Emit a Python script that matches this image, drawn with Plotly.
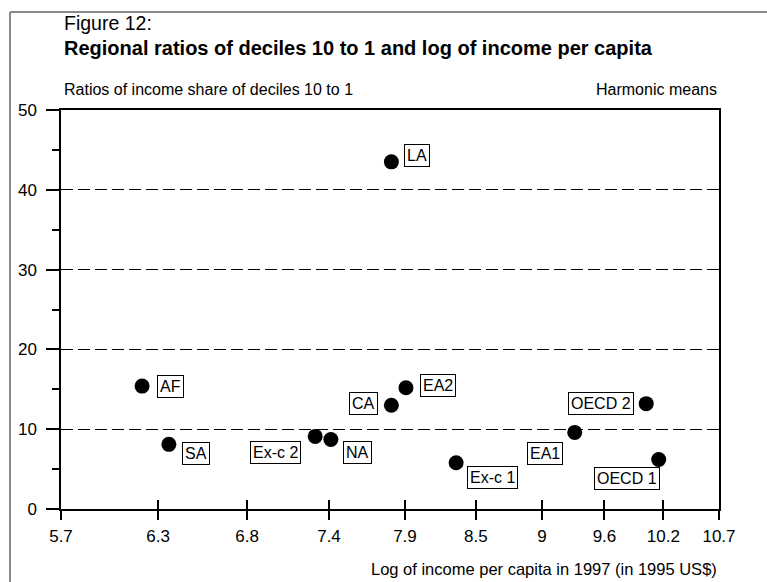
import numpy as np
import plotly.graph_objects as go

# ---- data ----
regions = ["AF", "SA", "Ex-c 2", "NA", "CA", "EA2", "LA", "Ex-c 1", "EA1", "OECD 2", "OECD 1"]
log_income = [6.16, 6.32, 7.27, 7.38, 7.82, 7.93, 7.82, 8.32, 9.32, 9.98, 10.10]
decile_ratio = [15.4, 8.1, 9.1, 8.7, 13.0, 15.2, 43.5, 5.8, 9.6, 13.2, 6.2]
x_tick_labels = ["5.7", "6.3", "6.8", "7.4", "7.9", "8.5", "9", "9.6", "10.2", "10.7"]
x_min, x_max = 5.7, 10.7
y_min, y_max = 0, 50

# ---- label placement (pixel offsets of label box centre from the point) ----
label_offsets = {
    "AF": (28, 0), "SA": (27, -9), "Ex-c 2": (-40, -16), "NA": (27, -13),
    "CA": (-28, 2), "EA2": (32, 2), "LA": (26, 6), "Ex-c 1": (36, -15),
    "EA1": (-30, -21), "OECD 2": (-45, 0), "OECD 1": (-32, -19),
}

FONT = "Liberation Sans, Arial, sans-serif"
W, H = 767, 582
PLOT_L, PLOT_R, PLOT_T, PLOT_B = 61, 719, 110, 509   # screen pixels
L, R = PLOT_L, W - PLOT_R
T, B = PLOT_T, H - PLOT_B
pw, ph = W - L - R, H - T - B

tickvals = list(np.linspace(x_min, x_max, len(x_tick_labels)))
xrange_log = [np.log10(x_min), np.log10(x_max)]

fig = go.Figure()
fig.add_trace(go.Scatter(
    x=log_income, y=decile_ratio, mode="markers",
    marker=dict(color="black", size=15, line=dict(width=0)),
    hoverinfo="x+y", showlegend=False,
))
# invisible trace on overlay axis (to draw inside tick halves)
fig.add_trace(go.Scatter(
    x=log_income, y=decile_ratio, mode="markers", xaxis="x2",
    marker=dict(opacity=0), hoverinfo="skip", showlegend=False,
))

for name, xv, yv in zip(regions, log_income, decile_ratio):
    dx, dy = label_offsets[name]
    fig.add_annotation(
        x=np.log10(xv), y=yv, xref="x", yref="y", text=name, showarrow=False,
        xshift=dx, yshift=dy, font=dict(family=FONT, size=16, color="black"),
        bordercolor="black", borderwidth=1, borderpad=2, bgcolor="white",
    )

def px_x(p):
    return (p - PLOT_L) / pw

def px_y(p):
    return (PLOT_B - p) / ph

texts = [
    ("Figure 12:", 62, 23, "left", 19.5),
    ("<b>Regional ratios of deciles 10 to 1 and log of income per capita</b>", 62, 48, "left", 20),
    ("Ratios of income share of deciles 10 to 1", 62, 89, "left", 16),
    ("Harmonic means", 719, 89, "right", 16),
    ("Log of income per capita in 1997 (in 1995 US$)", 719, 569, "right", 16.5),
]
for t, xp, yp, anchor, size in texts:
    fig.add_annotation(
        x=px_x(xp), y=px_y(yp), xref="paper", yref="paper", text=t, showarrow=False,
        xanchor=anchor, yanchor="middle", font=dict(family=FONT, size=size, color="black"),
    )

# outer frame (top and left edges; it continues past the picture's edges)
frame_color = "#8a8a8a"
fig.add_shape(type="line", xref="paper", yref="paper",
              x0=px_x(10), x1=px_x(790), y0=px_y(12), y1=px_y(12),
              line=dict(color=frame_color, width=2))
fig.add_shape(type="line", xref="paper", yref="paper",
              x0=px_x(10), x1=px_x(10), y0=px_y(12), y1=px_y(600),
              line=dict(color=frame_color, width=2))

fig.update_layout(
    width=W, height=H, margin=dict(l=L, r=R, t=T, b=B),
    paper_bgcolor="white", plot_bgcolor="white",
    font=dict(family=FONT, color="black"),
    xaxis=dict(
        type="log", range=xrange_log, tickmode="array", tickvals=tickvals,
        ticktext=x_tick_labels, ticks="outside", ticklen=9, tickwidth=1.5,
        tickcolor="black", showgrid=False, zeroline=False, showline=True,
        linecolor="black", linewidth=1.5, mirror=True, ticklabelstandoff=2,
        tickfont=dict(family=FONT, size=17, color="black"),
    ),
    xaxis2=dict(
        type="log", range=xrange_log, overlaying="x", anchor="y", side="bottom",
        tickmode="array", tickvals=tickvals, ticks="inside", ticklen=9,
        tickwidth=1.5, tickcolor="black", showticklabels=False, showgrid=False,
        zeroline=False, showline=False,
    ),
    yaxis=dict(
        range=[y_min, y_max], tickmode="linear", tick0=0, dtick=10,
        ticks="outside", ticklen=13, tickwidth=1.5, tickcolor="black",
        minor=dict(dtick=5, tick0=0, ticks="outside", ticklen=7, tickwidth=1.5, tickcolor="black"),
        showgrid=True, gridcolor="black", gridwidth=1, griddash="12px,5px",
        zeroline=False, showline=True, linecolor="black", linewidth=1.5, mirror=True,
        ticklabelstandoff=6,
        tickfont=dict(family=FONT, size=17, color="black"),
    ),
)

fig.write_html(
    "out.html",
    config={"displayModeBar": False},
    post_script="document.body.style.margin='0';document.body.style.overflow='hidden';",
)
